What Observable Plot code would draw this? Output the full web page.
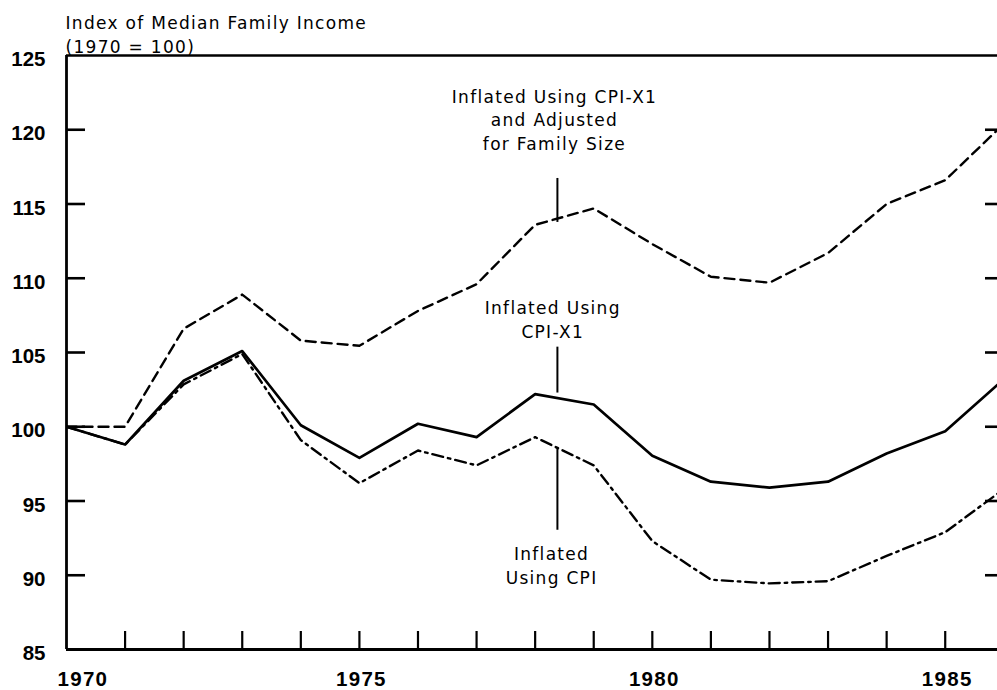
<!DOCTYPE html>
<html>
<head>
<meta charset="utf-8">
<script src="https://cdn.jsdelivr.net/npm/d3@7"></script>
<script src="https://cdn.jsdelivr.net/npm/@observablehq/plot@0.6"></script>
<style>
  html, body { margin: 0; padding: 0; background: #fff; overflow: hidden; }
  #chart svg { display: block; }
  #chart svg g[aria-label="text"] text { letter-spacing: 1.3px; }
</style>
</head>
<body>
<div id="chart"></div>
<script>
// ---- data ----
const years = [1970,1971,1972,1973,1974,1975,1976,1977,1978,1979,1980,1981,1982,1983,1984,1985,1986];
const cpiX1Family = [100,100,106.6,108.9,105.8,105.45,107.8,109.6,113.6,114.7,112.3,110.1,109.7,111.7,115.0,116.6,120.4];
const cpiX1       = [100,98.8,103.1,105.1,100.1,97.9,100.2,99.3,102.2,101.5,98.05,96.3,95.9,96.3,98.2,99.7,103.2];
const cpi         = [100,98.8,102.85,104.9,99.1,96.2,98.4,97.4,99.3,97.4,92.3,89.7,89.45,89.6,91.3,92.9,95.8];

const yTickLabels = [85,90,95,100,105,110,115,120,125];
const yInnerTicks = [90,95,100,105,110,115,120];
const xInnerTicks = [1971,1972,1973,1974,1975,1976,1977,1978,1979,1980,1981,1982,1983,1984,1985];
const xFirstLabel = [1970];
const xOtherLabels = [1975,1980,1985];

const titleText = "Index of Median Family Income\n(1970 = 100)";
const annotationTexts = ["Inflated Using CPI-X1\nand Adjusted\nfor Family Size", "Inflated Using\nCPI-X1", "Inflated\nUsing CPI"];
const annotationX = [1978.33, 1978.3, 1978.28];
const annotationY = [120.75, 107.3, 90.71];
const leaderX = [1978.38, 1978.38, 1978.38];
const leaderY1 = [116.72, 105.36, 98.55];
const leaderY2 = [113.76, 102.27, 93.03];

// ---- tables built from the arrays ----
const rows = (vals) => years.map((year, i) => ({year, value: vals[i]}));
const annotations = annotationTexts.map((t, i) => ({text: t, x: annotationX[i], y: annotationY[i]}));
const leaders = leaderX.map((x, i) => ({x, y1: leaderY1[i], y2: leaderY2[i]}));

const labelFont = "'DejaVu Sans', 'Noto Sans', sans-serif";
const tickFont = "'Liberation Sans', Arial, sans-serif";
const lineW = 2.4;
const blank = () => "";

const chart = Plot.plot({
  width: 997,
  height: 690,
  marginLeft: 66,
  marginRight: 0,
  marginTop: 55,
  marginBottom: 41,
  style: {background: "#fff", color: "#000"},
  x: {domain: [1970, 1986], range: [66, 1003.3], label: null},
  y: {domain: [85, 125], label: null},
  marks: [
    // frame lines
    Plot.ruleY([85], {stroke: "#000", strokeWidth: 2.8}),
    Plot.ruleY([125], {stroke: "#000", strokeWidth: 2.6}),
    Plot.ruleX([1970], {stroke: "#000", strokeWidth: 2.8}),
    // inward ticks
    Plot.axisX({anchor: "bottom", ticks: xInnerTicks, tickSize: 18, dy: -18, tickFormat: blank, label: null, strokeWidth: 2.2}),
    Plot.axisY({anchor: "left", ticks: yInnerTicks, tickSize: 19, dx: 19, tickFormat: blank, label: null, strokeWidth: 2.6}),
    Plot.axisY({anchor: "right", ticks: yInnerTicks, tickSize: 13, dx: -13, tickFormat: blank, label: null, strokeWidth: 2.6}),
    // y labels
    Plot.axisY({anchor: "left", ticks: yTickLabels, tickSize: 0, tickPadding: 21, dy: 4, label: null,
      fontFamily: tickFont, fontWeight: "bold", fontSize: 20.5, fill: "#000", tickFormat: d => String(d)}),
    // x labels
    Plot.text(xFirstLabel, {x: d => d, frameAnchor: "bottom", dy: 30, dx: -9, textAnchor: "start", lineAnchor: "middle",
      text: d => String(d), fontFamily: tickFont, fontWeight: "bold", fontSize: 20.5, fill: "#000"}),
    Plot.text(xOtherLabels, {x: d => d, frameAnchor: "bottom", dy: 30, dx: 2, textAnchor: "middle", lineAnchor: "middle",
      text: d => String(d), fontFamily: tickFont, fontWeight: "bold", fontSize: 20.5, fill: "#000"}),
    // data lines
    Plot.line(rows(cpiX1Family), {x: "year", y: "value", stroke: "#000", strokeWidth: lineW, strokeDasharray: "10,6", clip: true}),
    Plot.line(rows(cpiX1), {x: "year", y: "value", stroke: "#000", strokeWidth: lineW + 0.3, clip: true}),
    Plot.line(rows(cpi), {x: "year", y: "value", stroke: "#000", strokeWidth: lineW, strokeDasharray: "11,5,2.5,5", clip: true}),
    // leader lines
    Plot.ruleX(leaders, {x: "x", y1: "y1", y2: "y2", stroke: "#000", strokeWidth: 2}),
    // annotations
    Plot.text(annotations, {x: "x", y: "y", text: "text", textAnchor: "middle", lineAnchor: "middle", lineHeight: 1.38,
      fontFamily: labelFont, fontSize: 17, fill: "#000"}),
    // title
    Plot.text([titleText], {frameAnchor: "top-left", dx: -1, dy: -44, textAnchor: "start", lineAnchor: "top", lineHeight: 1.42,
      text: d => d, fontFamily: labelFont, fontSize: 17, fill: "#000"})
  ]
});
document.getElementById("chart").appendChild(chart);
</script>
</body>
</html>
